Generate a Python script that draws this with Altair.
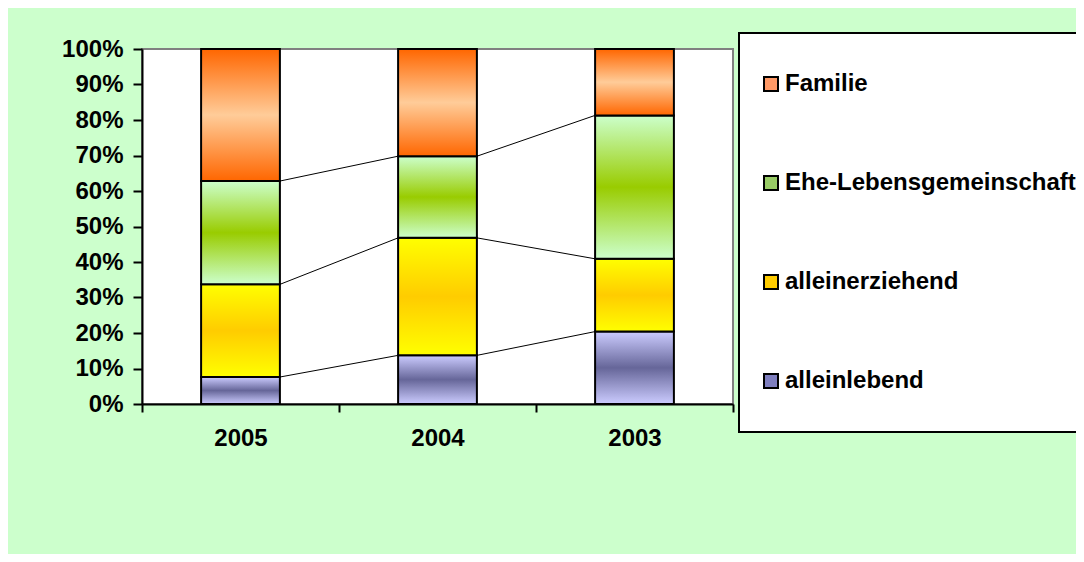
import altair as alt
import pandas as pd

years = ["2005", "2004", "2003"]
categories = ["alleinlebend", "alleinerziehend", "Ehe-Lebensgemeinschaft", "Familie"]
alleinlebend = [7.6, 13.7, 20.4]
alleinerziehend = [26.1, 33.1, 20.5]
ehe_lebensgemeinschaft = [29.1, 23.0, 40.4]
familie = [37.2, 30.2, 18.7]
series = [alleinlebend, alleinerziehend, ehe_lebensgemeinschaft, familie]
y_ticks = [0, 10, 20, 30, 40, 50, 60, 70, 80, 90, 100]

legend_order = ["Familie", "Ehe-Lebensgemeinschaft", "alleinerziehend", "alleinlebend"]
legend_colors = ["#FF9966", "#99CC66", "#FFCC00", "#7F7FBF"]

gradients = {
    "Familie": ["#FF6600", "#FFCC99", "#FF6600"],
    "Ehe-Lebensgemeinschaft": ["#CCFFCC", "#99CC00", "#CCFFCC"],
    "alleinerziehend": ["#FFFF00", "#FFCC00", "#FFFF00"],
    "alleinlebend": ["#CCCCFF", "#666699", "#CCCCFF"],
}

rows = []
for yi, yr in enumerate(years):
    for ci, (cat, vals) in enumerate(zip(categories, series)):
        rows.append({"year": yr, "yidx": yi, "category": cat, "cidx": ci, "value": vals[yi]})
df = pd.DataFrame(rows)

FONT = "Liberation Sans"
FS = 24
BAR_FRAC = 0.4

x_scale = alt.Scale(domain=years, paddingInner=0, paddingOuter=0)
y_scale = alt.Scale(domain=[0, 100], nice=False)

x_axis = alt.Axis(
    title=None, labelAngle=0, tickBand="extent", domainColor="black", domainWidth=2,
    tickColor="black", tickWidth=2, tickSize=8, labelFont=FONT, labelFontSize=FS,
    labelFontWeight="bold", labelColor="black", labelPadding=14, grid=False,
)
y_axis = alt.Axis(
    title=None, values=y_ticks, labelExpr="datum.value + '%'", grid=False,
    domainColor="black", domainWidth=2, tickColor="black", tickWidth=2, tickSize=9,
    labelFont=FONT, labelFontSize=FS, labelFontWeight="bold", labelColor="black",
    labelPadding=10,
)

base = alt.Chart(df).transform_stack(
    stack="value", groupby=["year"], as_=["y0", "y1"],
    sort=[alt.SortField("cidx", order="ascending")],
)


def bar_layer(cat):
    cols = gradients[cat]
    grad = alt.Gradient(
        gradient="linear", x1=0, x2=0, y1=0, y2=1,
        stops=[alt.GradientStop(color=cols[0], offset=0),
               alt.GradientStop(color=cols[1], offset=0.5),
               alt.GradientStop(color=cols[2], offset=1)],
    )
    return base.transform_filter(alt.datum.category == cat).mark_bar(
        fill=grad, stroke="black", strokeWidth=2, width=alt.RelativeBandSize(BAR_FRAC)
    ).encode(
        x=alt.X("year:N", scale=x_scale, axis=x_axis, sort=years),
        y=alt.Y("y0:Q", scale=y_scale, axis=y_axis),
        y2="y1:Q",
    )


lines = base.transform_window(
    ny="lead(y1)", nyear="lead(year)", groupby=["category"],
    sort=[alt.SortField("yidx", order="ascending")],
).transform_filter(
    "isValid(datum.nyear) && datum.category != 'Familie'"
).mark_rule(color="black", strokeWidth=1).encode(
    x=alt.X("year:N", scale=x_scale, axis=None, sort=years, bandPosition=0.5 + BAR_FRAC / 2),
    x2=alt.X2("nyear", bandPosition=0.5 - BAR_FRAC / 2),
    y=alt.Y("y1:Q", scale=y_scale, axis=y_axis),
    y2="ny:Q",
)

legend_layer = base.mark_square(opacity=0, size=10).encode(
    x=alt.X("year:N", scale=x_scale, axis=x_axis, sort=years),
    y=alt.Y("y1:Q", scale=y_scale, axis=y_axis),
    color=alt.Color(
        "category:N",
        scale=alt.Scale(domain=legend_order, range=legend_colors),
        legend=alt.Legend(
            title=None, orient="none", legendX=597, legendY=-16,
            fillColor="white", strokeColor="black", padding=20,
            symbolType="square", symbolSize=196, symbolStrokeColor="black",
            symbolStrokeWidth=2, symbolOpacity=1, labelFont=FONT, labelFontSize=FS,
            labelFontWeight="bold", labelColor="black", labelOffset=2,
            rowPadding=37, clipHeight=62, labelLimit=500,
        ),
    ),
)

bars = alt.layer(*[bar_layer(c) for c in categories], legend_layer)

chart = alt.layer(
    bars, lines
).resolve_scale(x="independent").resolve_axis(x="independent").properties(
    width=591, height=355,
    autosize=alt.AutoSizeParams(type="none"),
    padding={"left": 134, "top": 41, "right": 343, "bottom": 150},
    background="#CCFFCC",
).configure_view(
    stroke="#808080", strokeWidth=2, fill="white"
).configure_legend(
    strokeWidth=2
)

chart.save("out.html", embed_options={"renderer": "svg", "actions": False})
